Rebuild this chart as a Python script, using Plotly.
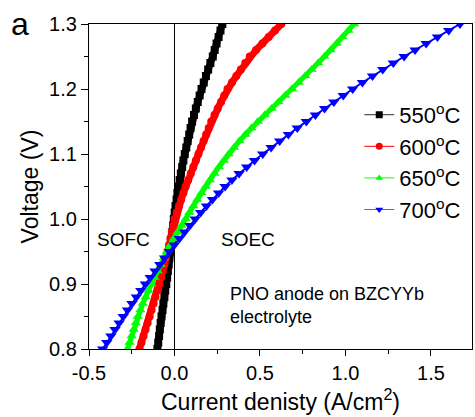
import plotly.graph_objects as go

voltage = [0.80, 0.81, 0.82, 0.83, 0.84, 0.85, 0.86, 0.87, 0.88, 0.89,
           0.90, 0.91, 0.92, 0.93, 0.94, 0.95, 0.96, 0.97, 0.98, 0.99,
           1.00, 1.01, 1.02, 1.03, 1.04, 1.05, 1.06, 1.07, 1.08, 1.09,
           1.10, 1.11, 1.12, 1.13, 1.14, 1.15, 1.16, 1.17, 1.18, 1.19,
           1.20, 1.21, 1.22, 1.23, 1.24, 1.25, 1.26, 1.27, 1.28, 1.29, 1.30]

i_550 = [-0.100, -0.095, -0.090, -0.086, -0.081, -0.076, -0.070, -0.065, -0.059, -0.054,
         -0.048, -0.043, -0.039, -0.034, -0.030, -0.025, -0.021, -0.017, -0.012, -0.008,
         -0.004, 0.001, 0.006, 0.012, 0.017, 0.022, 0.030, 0.037, 0.045, 0.052,
         0.060, 0.069, 0.077, 0.086, 0.094, 0.103, 0.114, 0.125, 0.136, 0.147,
         0.158, 0.171, 0.184, 0.197, 0.210, 0.224, 0.235, 0.246, 0.258, 0.269, 0.280]

i_600 = [-0.205, -0.193, -0.181, -0.169, -0.157, -0.145, -0.134, -0.122, -0.111, -0.099,
         -0.088, -0.078, -0.069, -0.059, -0.050, -0.040, -0.032, -0.024, -0.016, -0.008,
         0.000, 0.013, 0.026, 0.039, 0.052, 0.065, 0.080, 0.095, 0.110, 0.125,
         0.140, 0.155, 0.170, 0.185, 0.200, 0.215, 0.234, 0.253, 0.272, 0.291,
         0.310, 0.336, 0.362, 0.388, 0.414, 0.440, 0.477, 0.514, 0.551, 0.588, 0.625]

i_650 = [-0.275, -0.263, -0.251, -0.239, -0.227, -0.215, -0.200, -0.185, -0.169, -0.152,
         -0.135, -0.117, -0.099, -0.081, -0.063, -0.045, -0.025, -0.004, 0.018, 0.041,
         0.065, 0.087, 0.110, 0.133, 0.157, 0.182, 0.207, 0.233, 0.260, 0.288,
         0.317, 0.348, 0.380, 0.414, 0.450, 0.488, 0.528, 0.568, 0.608, 0.648,
         0.688, 0.727, 0.765, 0.803, 0.840, 0.877, 0.913, 0.948, 0.983, 1.017, 1.051]

i_700 = [-0.420, -0.396, -0.372, -0.348, -0.324, -0.300, -0.275, -0.249, -0.223, -0.197,
         -0.170, -0.142, -0.114, -0.086, -0.058, -0.030, -0.001, 0.029, 0.059, 0.090,
         0.121, 0.153, 0.187, 0.222, 0.258, 0.296, 0.336, 0.378, 0.422, 0.468,
         0.516, 0.565, 0.615, 0.666, 0.718, 0.771, 0.824, 0.878, 0.932, 0.987,
         1.042, 1.099, 1.158, 1.218, 1.280, 1.343, 1.407, 1.472, 1.538, 1.604, 1.670]

series_names = ["550<sup>o</sup>C", "600<sup>o</sup>C", "650<sup>o</sup>C", "700<sup>o</sup>C"]
series_currents = [i_550, i_600, i_650, i_700]
colors = ["#000000", "#ff0000", "#00ff00", "#0000ff"]
legend_line_colors = ["#555555", "#ff3030", "#40ff40", "#5060ff"]
symbols = ["square", "circle", "triangle-up", "triangle-down"]
sizes = [8, 8, 9, 10]
widths = [7, 7, 5, 2]

x_ticks = [-0.5, 0.0, 0.5, 1.0, 1.5]
y_ticks = [0.8, 0.9, 1.0, 1.1, 1.2, 1.3]

FONT = "Liberation Sans, Arial, sans-serif"

fig = go.Figure()
for name, cur, col, sym, sz, w in zip(series_names, series_currents, colors, symbols, sizes, widths):
    fig.add_trace(go.Scatter(
        x=cur, y=voltage, name=name, mode="lines+markers",
        line=dict(color=col, width=w),
        marker=dict(symbol=sym, size=sz, color=col, line=dict(width=0)),
        cliponaxis=True, showlegend=False,
    ))
# legend entries (thin line + small marker, as in the reference legend)
for name, col, lcol, sym in zip(series_names, colors, legend_line_colors, symbols):
    fig.add_trace(go.Scatter(
        x=[None], y=[None], name=name, mode="lines+markers",
        line=dict(color=lcol, width=1.2),
        marker=dict(symbol=sym, size=7, color=col, line=dict(width=0)),
        showlegend=True,
    ))

fig.update_layout(
    width=475, height=417,
    margin=dict(l=89, r=3, t=24, b=68, autoexpand=False),
    paper_bgcolor="white", plot_bgcolor="white",
    font=dict(family=FONT, color="black", size=20),
    showlegend=True,
    legend=dict(x=0.985, y=0.785, xanchor="right", yanchor="top",
                bgcolor="rgba(0,0,0,0)", font=dict(size=22),
                itemsizing="trace", tracegroupgap=0),
)

fig.update_xaxes(
    range=[-0.5, 1.74], tickvals=x_ticks, ticktext=[f"{v:.1f}" for v in x_ticks],
    ticks="outside", ticklen=6, tickwidth=1, tickcolor="black",
    minor=dict(dtick=0.25, tick0=0, ticks="outside", ticklen=4, tickcolor="black", showgrid=False),
    showline=True, linecolor="black", linewidth=1.2, mirror=True,
    showgrid=False, zeroline=True, zerolinecolor="black", zerolinewidth=1,
    tickfont=dict(size=20), automargin=False,
    title=dict(text="Current denisty (A/cm<sup>2</sup>)", font=dict(size=23), standoff=10),
)
fig.update_yaxes(
    range=[0.8, 1.3], tickvals=y_ticks, ticktext=[f"{v:.1f}" for v in y_ticks],
    ticks="outside", ticklen=7, tickwidth=1, tickcolor="black",
    minor=dict(dtick=0.05, tick0=0.8, ticks="outside", ticklen=4, tickcolor="black", showgrid=False),
    showline=True, linecolor="black", linewidth=1.2, mirror=True,
    showgrid=False, zeroline=False,
    tickfont=dict(size=20), automargin=False,
    title=dict(text="Voltage (V)", font=dict(size=23), standoff=4),
)

fig.add_annotation(text="a", xref="paper", yref="paper", x=-0.21, y=1.06,
                   xanchor="left", yanchor="top", showarrow=False, font=dict(size=32))
fig.add_annotation(text="SOFC", x=-0.463, y=0.968, xanchor="left", yanchor="middle",
                   showarrow=False, font=dict(size=19))
fig.add_annotation(text="SOEC", x=0.258, y=0.968, xanchor="left", yanchor="middle",
                   showarrow=False, font=dict(size=19))
fig.add_annotation(text="PNO anode on BZCYYb<br>electrolyte", x=0.31, y=0.867,
                   xanchor="left", yanchor="middle", align="left",
                   showarrow=False, font=dict(size=18))

fig.write_html("out.html", config={"displayModeBar": False},
               post_script="document.body.style.margin='0px';document.body.style.overflow='hidden';")
